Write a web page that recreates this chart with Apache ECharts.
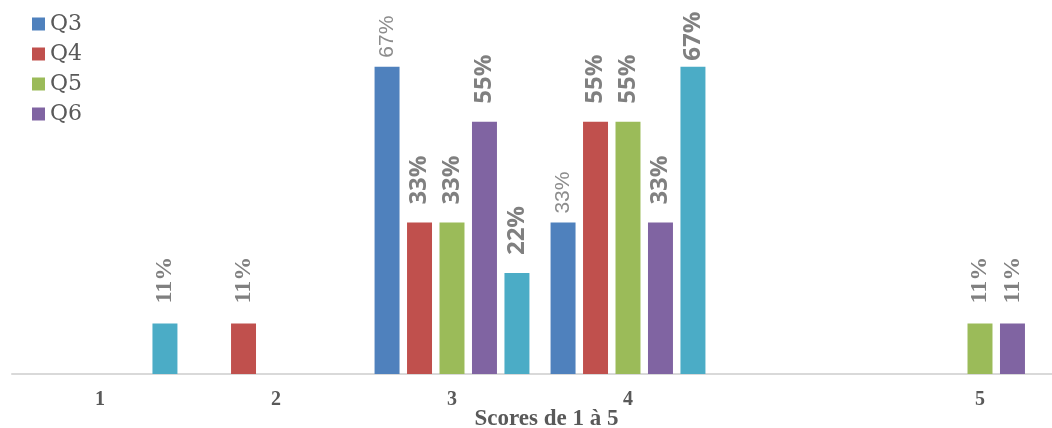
<!DOCTYPE html>
<html>
<head>
<meta charset="utf-8">
<script src="https://cdn.jsdelivr.net/npm/echarts@6/dist/echarts.min.js"></script>
<style>
  html, body { margin: 0; padding: 0; background: #fff; }
  #main { width: 1052px; height: 428px; }
</style>
</head>
<body>
<div id="main"></div>
<script>
// 类别 (一个空类别占位于 4 与 5 之间)
var categories = ['1', '2', '3', '4', '', '5'];

// 各系列数值 (比例)
var q3 = [null, null, 0.67, 0.33, null, null];
var q4 = [null, 0.11, 0.33, 0.55, null, null];
var q5 = [null, null, 0.33, 0.55, null, 0.11];
var q6 = [null, null, 0.55, 0.33, null, 0.11];
var q7 = [0.11, null, 0.22, 0.67, null, null];

var seriesNames = ['Q3', 'Q4', 'Q5', 'Q6', 'Q7'];
var seriesData = [q3, q4, q5, q6, q7];
var colors = ['#4F81BD', '#C0504D', '#9BBB59', '#8064A2', '#4BACC6'];

var serif = 'Liberation Serif';
var sans = 'Open Sans';

/**
 * 构造单个系列
 */
function makeSeries(i) {
    var isQ3 = i === 0;
    var data = seriesData[i].map(function (v) {
        if (v === null) return null;
        // 11% 的标签用衬线字体
        if (v === 0.11) {
            return { value: v, label: { fontFamily: serif, fontWeight: 'bold', fontSize: 24, distance: 20 } };
        }
        // 顶部空间不够时标签贴近柱子
        if (!isQ3 && v > 0.6) {
            return { value: v, label: { distance: 6 } };
        }
        return v;
    });
    return {
        name: seriesNames[i],
        type: 'bar',
        data: data,
        barGap: '30%',
        barCategoryGap: '12%',
        itemStyle: { color: colors[i] },
        label: {
            show: true,
            position: 'top',
            rotate: 90,
            align: 'left',
            verticalAlign: 'middle',
            distance: isQ3 ? 9 : 18,
            color: isQ3 ? '#8c8c8c' : '#808080',
            fontFamily: isQ3 ? 'Liberation Sans' : sans,
            fontSize: isQ3 ? 21 : 24,
            fontWeight: isQ3 ? 'normal' : 'bold',
            formatter: function (p) {
                return Math.round(p.value * 100) + '%';
            }
        }
    };
}

var series = [];
for (var i = 0; i < seriesNames.length; i++) {
    series.push(makeSeries(i));
}

var myChart = echarts.init(document.getElementById('main'));
var option = {
    animation: false,
    textStyle: { fontFamily: serif },
    legend: {
        data: ['Q3', 'Q4', 'Q5', 'Q6'],
        orient: 'vertical',
        left: 32,
        top: 13,
        padding: 0,
        itemWidth: 13,
        itemHeight: 13,
        itemGap: 8,
        icon: 'rect',
        formatter: '{t|{name}}',
        textStyle: {
            rich: {
                t: { fontFamily: 'DejaVu Serif', fontSize: 22, lineHeight: 24, color: '#595959' }
            }
        }
    },
    grid: {
        left: 12,
        top: 7,
        width: 1056,
        bottom: 54,
        containLabel: false,
        outerBoundsMode: 'none'
    },
    xAxis: {
        type: 'category',
        data: categories,
        name: 'Scores de 1 à 5',
        nameLocation: 'middle',
        nameGap: 34,
        nameMoveOverlap: false,
        nameTextStyle: { fontFamily: serif, fontWeight: 'bold', fontSize: 23, color: '#595959', padding: [0, 0, 0, 13] },
        axisLine: { lineStyle: { color: '#d9d9d9', width: 2 } },
        axisTick: { show: false },
        axisLabel: { fontFamily: serif, fontWeight: 'bold', fontSize: 20, color: '#595959', margin: 16 }
    },
    yAxis: {
        type: 'value',
        min: 0,
        max: 0.8,
        show: false
    },
    series: series
};
myChart.setOption(option);
</script>
</body>
</html>
